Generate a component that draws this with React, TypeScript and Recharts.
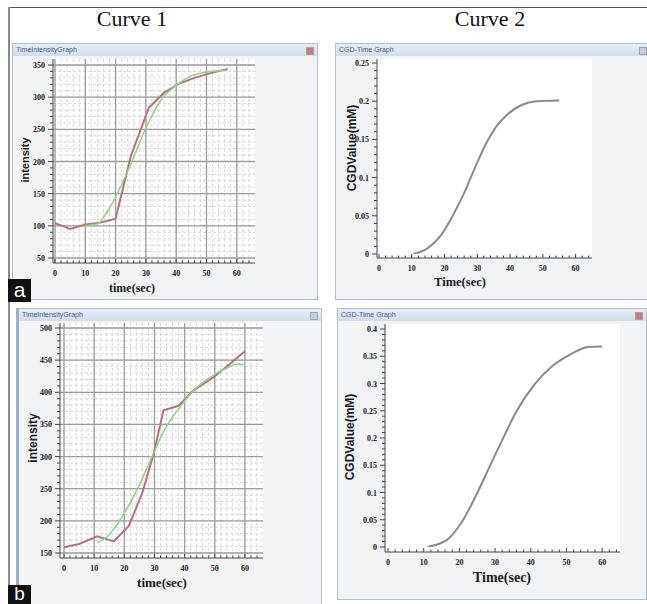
import React from 'react';
import { LineChart, Line, XAxis, YAxis, CartesianGrid } from 'recharts';

// panel a, curve 1
const aRedTime = [0, 5, 10, 15, 20, 25, 31, 36, 41, 46, 51, 57];
const aRedValue = [104, 95, 102, 105, 111, 208, 284, 307, 321, 330, 337, 344];
const aGreenTime = [10, 14, 17, 20, 25, 30, 35, 40, 45, 50, 57];
const aGreenValue = [100, 103, 120, 145, 196, 252, 296, 318, 333, 339, 342];
// panel a, curve 2
const aCgdTime = [10.5, 15, 19, 22.5, 26, 29, 32.5, 36, 39, 43.5, 48, 55];
const aCgdValue = [0, 0.008, 0.025, 0.05, 0.08, 0.11, 0.143, 0.168, 0.182, 0.195, 0.2, 0.201];

// panel b, curve 1
const bRedTime = [0, 5, 11, 16.5, 21.5, 26, 30, 33, 38, 43, 49.5, 55, 60];
const bRedValue = [159, 164, 176, 168, 192, 244, 309, 372, 379, 403, 423, 444, 464];
const bGreenTime = [11, 14.5, 20, 24.5, 29, 33.5, 38, 42.5, 46, 50, 54.5, 57.5, 60];
const bGreenValue = [166, 176, 212, 251, 298, 343, 374, 400, 415, 428, 439, 444, 443];
// panel b, curve 2
const bCgdTime = [11, 16.5, 20.5, 25, 28.5, 32.5, 36, 41, 45.5, 51, 56, 60];
const bCgdValue = [0, 0.013, 0.044, 0.099, 0.148, 0.203, 0.249, 0.298, 0.329, 0.353, 0.367, 0.368];

// tick labels
const timeTicks = [0, 10, 20, 30, 40, 50, 60];
const aIntensityTicks = [50, 100, 150, 200, 250, 300, 350];
const bIntensityTicks = [150, 200, 250, 300, 350, 400, 450, 500];
const aCgdTicks = [0, 0.05, 0.1, 0.15, 0.2, 0.25];
const bCgdTicks = [0, 0.05, 0.1, 0.15, 0.2, 0.25, 0.3, 0.35, 0.4];

const zip = (t: number[], v: number[]) => t.map((x, i) => ({ t: x, v: v[i] }));

// minor tick / grid positions between the labelled ones
const steps = (from: number, to: number, step: number) => {
  const out: number[] = [];
  const n = Math.round((to - from) / step);
  for (let i = 0; i <= n; i++) out.push(Math.round((from + i * step) * 1000) / 1000);
  return out;
};

const isIn = (v: number, list: number[]) => list.some((m) => Math.abs(m - v) < 1e-6);

const tickFont = {
  fontFamily: '"Liberation Serif", serif',
  fontWeight: 700,
  fontSize: 8,
  fill: '#222',
};

const makeXTick = (major: number[], gap: number) => (p: any) => {
  const { x, y, payload } = p;
  const big = isIn(payload.value, major);
  return (
    <g>
      <line x1={x} x2={x} y1={y} y2={y - (big ? 4 : 2.5)} stroke="#444" />
      {big && (
        <text x={x} y={y + gap} textAnchor="middle" {...tickFont}>
          {payload.value}
        </text>
      )}
    </g>
  );
};

const makeYTick = (major: number[]) => (p: any) => {
  const { x, y, payload } = p;
  const big = isIn(payload.value, major);
  return (
    <g>
      <line x1={x} x2={x - (big ? 5 : 3)} y1={y} y2={y} stroke="#444" />
      {big && (
        <text x={x - 8} y={y + 3} textAnchor="end" {...tickFont}>
          {payload.value}
        </text>
      )}
    </g>
  );
};

function Win({ left, top, width, height, title, red, edge }: any) {
  return (
    <div
      style={{
        position: 'absolute',
        left,
        top,
        width,
        height,
        boxSizing: 'border-box',
        background: '#f1f3f5',
        border: '1px solid #b3c0cd',
        borderLeft: edge ? '3px solid #9db1c6' : '1px solid #b3c0cd',
      }}
    >
      <div
        style={{
          height: 12,
          background: 'linear-gradient(#e6edf5, #d2dde9)',
          fontFamily: '"Liberation Sans", sans-serif',
          fontSize: 7,
          lineHeight: '12px',
          color: '#41628f',
          paddingLeft: 3,
        }}
      >
        {title}
      </div>
      <div
        style={{
          position: 'absolute',
          right: 3,
          top: 3,
          width: 6,
          height: 6,
          background: red ? '#d47474' : '#c9cfd6',
          border: '1px solid #9aa4ae',
        }}
      />
    </div>
  );
}

function Title({ x, y, size, rotate, serif, children }: any) {
  return (
    <div
      style={{
        position: 'absolute',
        left: x,
        top: y,
        transform: `translate(-50%, -50%)${rotate ? ' rotate(-90deg)' : ''}`,
        whiteSpace: 'nowrap',
        fontFamily: serif ? '"Liberation Serif", serif' : '"Liberation Sans", sans-serif',
        fontWeight: 700,
        fontSize: size,
        color: '#1a1a1a',
        lineHeight: 1,
      }}
    >
      {children}
    </div>
  );
}

function Plot({ left, top, width, height, right, bottom, yWidth, xDomain, yDomain, xPad, yPad, yTicks, yMajor, yStep, labelGap, grid, lines }: any) {
  const xMinor = steps(0, 64, 2);
  const yMinor = steps(yDomain[0], yDomain[1], yStep);
  return (
    <div style={{ position: 'absolute', left, top }}>
      <LineChart width={width} height={height} margin={{ top: 0, right, bottom: 0, left: 0 }}>
        <CartesianGrid
          fill="#ffffff"
          stroke={grid ? '#d9d9d9' : 'none'}
          strokeDasharray="3 2"
          verticalValues={grid ? xMinor : []}
          horizontalValues={grid ? yMinor : []}
        />
        {grid && (
          <CartesianGrid
            stroke="#9c9c9c"
            strokeWidth={1.3}
            verticalValues={timeTicks}
            horizontalValues={yTicks}
          />
        )}
        <XAxis
          type="number"
          dataKey="t"
          domain={xDomain}
          ticks={xMinor}
          interval={0}
          padding={{ left: xPad, right: 0 }}
          height={bottom}
          tickSize={0}
          tickMargin={0}
          tickLine={false}
          axisLine={{ stroke: '#444' }}
          tick={makeXTick(timeTicks, labelGap)}
          allowDataOverflow
        />
        <YAxis
          type="number"
          domain={yDomain}
          ticks={yMinor}
          interval={0}
          width={yWidth}
          padding={{ top: yPad[0], bottom: yPad[1] }}
          tickSize={0}
          tickMargin={0}
          tickLine={false}
          axisLine={{ stroke: '#444' }}
          tick={makeYTick(yMajor)}
          allowDataOverflow
        />
        {lines.map((l: any, i: number) => (
          <Line
            key={i}
            data={l.data}
            dataKey="v"
            type={l.type}
            stroke={l.color}
            strokeWidth={l.width}
            dot={false}
            activeDot={false}
            isAnimationActive={false}
          />
        ))}
      </LineChart>
    </div>
  );
}

export default function App() {
  const red = '#b8707f';
  const green = '#8ad68a';
  const gray = '#8a8a8a';
  return (
    <div
      style={{
        position: 'absolute',
        left: 0,
        top: 0,
        width: 647,
        height: 604,
        overflow: 'hidden',
        background: '#ffffff',
      }}
    >
      {/* outer frame */}
      <div style={{ position: 'absolute', left: 8, top: 7, width: 640, height: 1, background: '#555' }} />
      <div style={{ position: 'absolute', left: 8, top: 7, width: 2, height: 600, background: '#8a8a8a' }} />

      <div
        style={{
          position: 'absolute',
          left: 132,
          top: 19,
          transform: 'translate(-50%, -50%)',
          fontFamily: '"Liberation Serif", serif',
          fontSize: 22,
          lineHeight: 1,
          color: '#111',
          whiteSpace: 'nowrap',
        }}
      >
        Curve 1
      </div>
      <div
        style={{
          position: 'absolute',
          left: 490,
          top: 19,
          transform: 'translate(-50%, -50%)',
          fontFamily: '"Liberation Serif", serif',
          fontSize: 22,
          lineHeight: 1,
          color: '#111',
          whiteSpace: 'nowrap',
        }}
      >
        Curve 2
      </div>

      <Win left={12} top={43} width={306} height={257} title="TimeIntensityGraph" red />
      <Win left={335} top={43} width={316} height={257} title="CGD-Time Graph" />
      <Win left={16} top={308} width={306} height={300} title="TimeIntensityGraph" edge />
      <Win left={337} top={308} width={310} height={292} title="CGD-Time Graph" red />

      <Plot
        left={12}
        top={59}
        width={306}
        height={204 + 37}
        right={63}
        bottom={37}
        yWidth={41}
        xDomain={[0, 66]}
        xPad={2}
        yDomain={[50, 350]}
        yPad={[6, 5]}
        yTicks={aIntensityTicks}
        yMajor={aIntensityTicks}
        yStep={10}
        labelGap={13}
        grid
        lines={[
          { data: zip(aRedTime, aRedValue), type: 'linear', color: red, width: 2 },
          { data: zip(aGreenTime, aGreenValue), type: 'monotone', color: green, width: 1.5 },
        ]}
      />
      <Plot
        left={335}
        top={59}
        width={312}
        height={199 + 42}
        right={55}
        bottom={42}
        yWidth={42}
        xDomain={[0, 65]}
        xPad={2}
        yDomain={[0, 0.25]}
        yPad={[4, 4]}
        yTicks={aCgdTicks}
        yMajor={aCgdTicks}
        yStep={0.01}
        labelGap={13}
        lines={[{ data: zip(aCgdTime, aCgdValue), type: 'monotone', color: gray, width: 2 }]}
      />
      <Plot
        left={18}
        top={323}
        width={302}
        height={235 + 46}
        right={57}
        bottom={46}
        yWidth={42}
        xDomain={[0, 66]}
        xPad={4}
        yDomain={[150, 500]}
        yPad={[5, 5]}
        yTicks={bIntensityTicks}
        yMajor={bIntensityTicks}
        yStep={10}
        labelGap={13}
        grid
        lines={[
          { data: zip(bRedTime, bRedValue), type: 'linear', color: red, width: 2 },
          { data: zip(bGreenTime, bGreenValue), type: 'monotone', color: green, width: 1.5 },
        ]}
      />
      <Plot
        left={337}
        top={324}
        width={310}
        height={228 + 48}
        right={27}
        bottom={48}
        yWidth={48}
        xDomain={[0, 65]}
        xPad={3}
        yDomain={[0, 0.4]}
        yPad={[5, 5]}
        yTicks={bCgdTicks}
        yMajor={bCgdTicks}
        yStep={0.01}
        labelGap={13}
        lines={[{ data: zip(bCgdTime, bCgdValue), type: 'monotone', color: gray, width: 2 }]}
      />

      <Title x={132} y={288} size={12} serif>time(sec)</Title>
      <Title x={25} y={160} size={11} rotate>intensity</Title>
      <Title x={460} y={282} size={12.5} serif>Time(sec)</Title>
      <Title x={352} y={148} size={12} rotate>CGDValue(mM)</Title>
      <Title x={162} y={582} size={13} serif>time(sec)</Title>
      <Title x={33} y={438} size={12} rotate>intensity</Title>
      <Title x={502} y={578} size={14} serif>Time(sec)</Title>
      <Title x={350} y={437} size={12} rotate>CGDValue(mM)</Title>

      {/* panel letters */}
      <div
        style={{
          position: 'absolute',
          left: 8,
          top: 279,
          width: 23,
          height: 23,
          background: '#111',
          color: '#fff',
          fontFamily: '"Liberation Sans", sans-serif',
          fontSize: 21,
          lineHeight: '21px',
          textAlign: 'center',
        }}
      >
        a
      </div>
      <div
        style={{
          position: 'absolute',
          left: 8,
          top: 585,
          width: 23,
          height: 19,
          background: '#111',
          color: '#fff',
          fontFamily: '"Liberation Sans", sans-serif',
          fontSize: 19,
          lineHeight: '18px',
          textAlign: 'center',
        }}
      >
        b
      </div>
    </div>
  );
}
